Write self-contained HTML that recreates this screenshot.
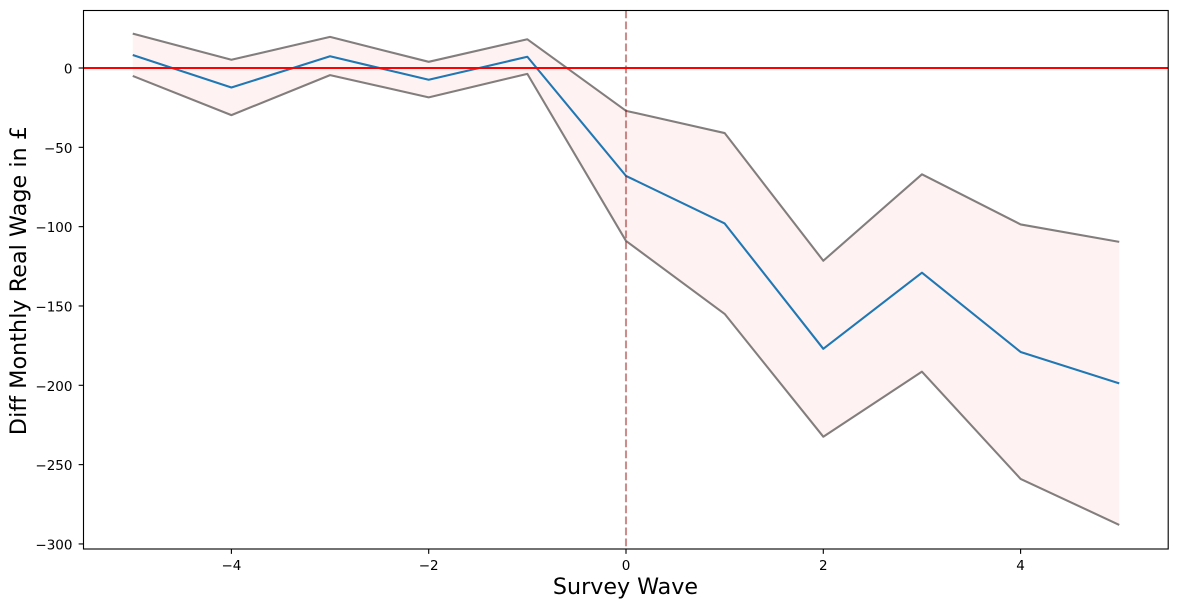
<!DOCTYPE html>
<html>
<head>
<meta charset="utf-8">
<style>
html,body{margin:0;padding:0;background:#fff;width:1178px;height:608px;overflow:hidden}
svg{display:block}
text{font-family:"DejaVu Sans","Liberation Sans",sans-serif;fill:#000}
</style>
</head>
<body>
<svg id="chart" width="1178" height="608" viewBox="0 0 1178 608" xmlns="http://www.w3.org/2000/svg"></svg>
<script>
const waves = [-5,-4,-3,-2,-1,0,1,2,3,4,5];
const meanDiff = [8.2,-12.3,7.4,-7.4,7.1,-68,-98,-177,-129,-179,-198.8];
const upperBound = [21.7,5.2,19.6,3.9,18.1,-27,-41,-121.5,-67,-98.6,-109.6];
const lowerBound = [-5,-29.7,-4.5,-18.5,-3.7,-109,-155,-232.4,-191.4,-259,-288];
const xTicks = [-4,-2,0,2,4];
const yTicks = [0,-50,-100,-150,-200,-250,-300];
const referenceY = 0;
const referenceX = 0;

const NS = 'http://www.w3.org/2000/svg';
const svg = document.getElementById('chart');
const plot = {l:83.5, r:1168.2, t:10.5, b:549};
const xScale = v => 626 + v * 98.65;
const yScale = v => 68 + (-v) * 1.5865;
const fmt = v => String(v).replace('-', '\u2212');

function mk(tag, attrs, parent){
  const el = document.createElementNS(NS, tag);
  for (const k in attrs) el.setAttribute(k, attrs[k]);
  (parent || svg).appendChild(el);
  return el;
}
function pts(xs, ys){
  return xs.map((x,i) => xScale(x).toFixed(2) + ',' + yScale(ys[i]).toFixed(2)).join(' ');
}

const band = mk('polygon', {
  points: pts(waves, upperBound) + ' ' + pts(waves.slice().reverse(), lowerBound.slice().reverse()),
  fill: '#ff0000', 'fill-opacity': 0.05, stroke: 'none'
});



const upperLine = mk('polyline', {points: pts(waves, upperBound), fill:'none', stroke:'#837e7e', 'stroke-width':2.08, 'stroke-linejoin':'round'});



const lowerLine = mk('polyline', {points: pts(waves, lowerBound), fill:'none', stroke:'#837e7e', 'stroke-width':2.08, 'stroke-linejoin':'round'});



const meanLine = mk('polyline', {points: pts(waves, meanDiff), fill:'none', stroke:'#1f77b4', 'stroke-width':2.08, 'stroke-linejoin':'round'});



const vLine = mk('line', {x1:xScale(referenceX), x2:xScale(referenceX), y1:plot.t, y2:plot.b, stroke:'#8b0000', 'stroke-opacity':0.45, 'stroke-width':2.08, 'stroke-dasharray':'7.7 3.3'});



const hLine = mk('line', {x1:plot.l, x2:plot.r, y1:yScale(referenceY), y2:yScale(referenceY), stroke:'#ff0000', 'stroke-width':2.08});



const frame = mk('rect', {x:plot.l, y:plot.t, width:plot.r-plot.l, height:plot.b-plot.t, fill:'none', stroke:'#000', 'stroke-width':1.11});



xTicks.forEach(v => {
  const x = xScale(v);
  const tick = mk('line', {x1:x, x2:x, y1:plot.b, y2:plot.b+4.86, stroke:'#000', 'stroke-width':1.11});
  
  
  const label = mk('text', {x:x, y:570, 'text-anchor':'middle', 'font-size':13.5});
  
  
  label.textContent = fmt(v);
});

yTicks.forEach(v => {
  const y = yScale(v);
  const tick = mk('line', {x1:plot.l-4.86, x2:plot.l, y1:y, y2:y, stroke:'#000', 'stroke-width':1.11});
  
  
  const label = mk('text', {x:72.5, y:y+5.5, 'text-anchor':'end', 'font-size':13.5});
  
  
  label.textContent = fmt(v);
});

const xTitle = mk('text', {x:625.5, y:594, 'text-anchor':'middle', 'font-size':22.2});


xTitle.textContent = 'Survey Wave';

const yTitle = mk('text', {x:0, y:0, 'text-anchor':'middle', 'font-size':22.2, 'letter-spacing':0.08, transform:'translate(26,280.5) rotate(-90)'});


yTitle.textContent = 'Diff Monthly Real Wage in \u00a3';
</script>
</body>
</html>
